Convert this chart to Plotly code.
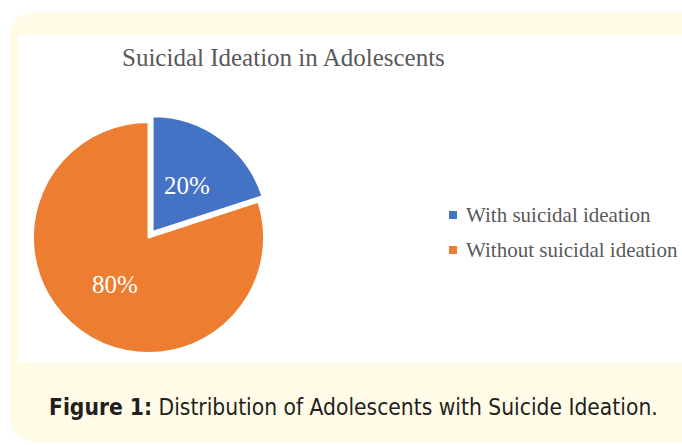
import math
import plotly.graph_objects as go

labels = ["With suicidal ideation", "Without suicidal ideation"]
values = [20, 80]
colors = ["#4472C4", "#ED7D31"]
pulls = [0.06, 0]

W, H = 682, 445

def px(x):
    return x / W

def py(y):
    return 1 - y / H

# pie domain in pixels
dx0, dx1, dy0, dy1 = 26, 271, 115, 360

fig = go.Figure()
fig.add_trace(go.Pie(
    labels=labels, values=values, sort=False, direction="clockwise", rotation=0,
    pull=pulls,
    marker=dict(colors=colors, line=dict(color="white", width=2)),
    textinfo="none",
    domain=dict(x=[px(dx0), px(dx1)], y=[py(dy1), py(dy0)]),
    hoverinfo="label+percent",
    showlegend=False,
))

# rounded cream panel
r = 26
x0, y0, x1, y1 = 10, 12, 700, 442
path = (f"M {px(x0+r)},{py(y0)} L {px(x1)},{py(y0)} L {px(x1)},{py(y1)} "
        f"L {px(x0+r)},{py(y1)} Q {px(x0)},{py(y1)} {px(x0)},{py(y1-r)} "
        f"L {px(x0)},{py(y0+r)} Q {px(x0)},{py(y0)} {px(x0+r)},{py(y0)} Z")
shapes = [
    dict(type="path", xref="paper", yref="paper", path=path,
         fillcolor="#FFFBE6", line=dict(width=0), layer="below"),
    dict(type="rect", xref="paper", yref="paper", x0=px(18), x1=px(690),
         y0=py(362), y1=py(35), fillcolor="white", line=dict(width=0), layer="below"),
]

annotations = [
    dict(text="Suicidal Ideation in Adolescents", x=px(283), y=py(57),
         xref="paper", yref="paper", showarrow=False, xanchor="center", yanchor="middle",
         font=dict(family="Liberation Serif", size=25, color="#595959")),
    dict(text="<b>Figure 1:</b> Distribution of Adolescents with Suicide Ideation.",
         x=px(353), y=py(407), xref="paper", yref="paper", showarrow=False,
         xanchor="center", yanchor="middle",
         font=dict(family="DejaVu Sans Condensed, Liberation Sans Narrow, sans-serif",
                   size=22.6, color="#231F20")),
]

# percentage labels placed at half radius along each slice's bisector
cx, cy = (dx0 + dx1) / 2, (dy0 + dy1) / 2
rad = min(dx1 - dx0, dy1 - dy0) / 2 / (1 + max(pulls))
total = sum(values)
cum = 0
for v, p in zip(values, pulls):
    mid = 2 * math.pi * (cum + v / 2) / total
    cum += v
    d = rad * (p + 0.5)
    lx, ly = cx + d * math.sin(mid), cy - d * math.cos(mid)
    annotations.append(dict(text=f"{round(100 * v / total)}%", x=px(lx), y=py(ly),
                            xref="paper", yref="paper", showarrow=False,
                            xanchor="center", yanchor="middle",
                            font=dict(family="Liberation Serif", size=25, color="white")))

# legend drawn as square markers + labels, one row per category
leg_x, leg_y0, leg_dy, sq = 449, 215, 35, 8
for i, (lab, col) in enumerate(zip(labels, colors)):
    ry = leg_y0 + i * leg_dy
    shapes.append(dict(type="rect", xref="paper", yref="paper",
                       x0=px(leg_x), x1=px(leg_x + sq), y0=py(ry + sq / 2), y1=py(ry - sq / 2),
                       fillcolor=col, line=dict(width=0)))
    annotations.append(dict(text=lab, x=px(leg_x + sq + 7), y=py(ry), xref="paper", yref="paper",
                            showarrow=False, xanchor="left", yanchor="middle",
                            font=dict(family="Liberation Serif", size=21, color="#595959")))

fig.update_layout(
    width=W, height=H,
    margin=dict(l=0, r=0, t=0, b=0),
    paper_bgcolor="white", plot_bgcolor="white",
    shapes=shapes,
    showlegend=False,
    annotations=annotations,
)

fig.write_html("out.html")
